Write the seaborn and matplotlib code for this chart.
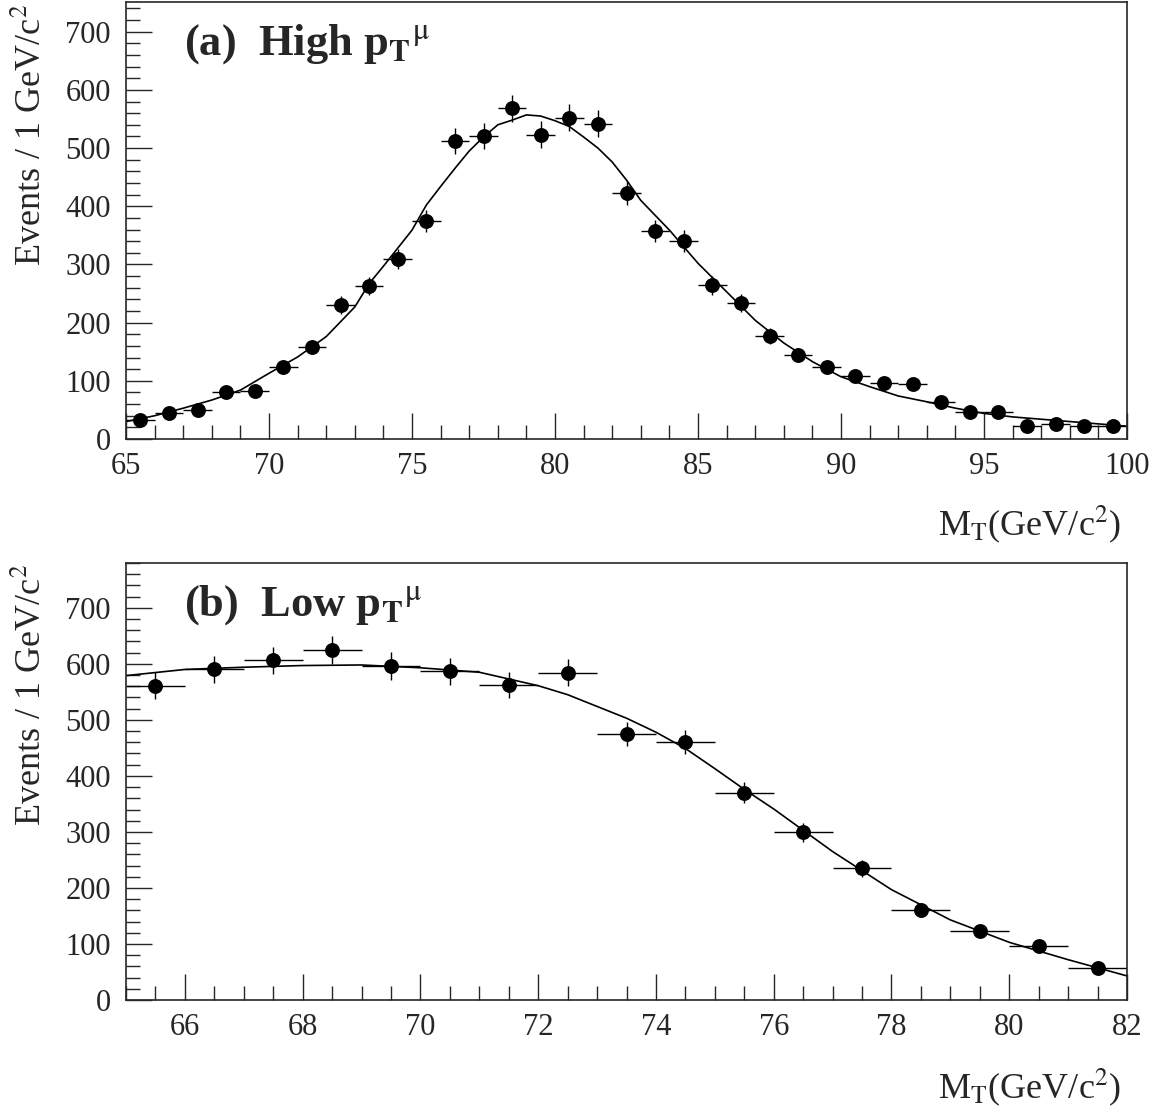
import numpy as np
import pandas as pd
import matplotlib
matplotlib.use("Agg")
import matplotlib.pyplot as plt
import seaborn as sns
from matplotlib.ticker import MultipleLocator

# panel (a) - high pT muons
high_mt = [65.5, 66.5, 67.5, 68.5, 69.5, 70.5, 71.5, 72.5, 73.5, 74.5, 75.5, 76.5,
           77.5, 78.5, 79.5, 80.5, 81.5, 82.5, 83.5, 84.5, 85.5, 86.5, 87.5, 88.5,
           89.5, 90.5, 91.5, 92.5, 93.5, 94.5, 95.5, 96.5, 97.5, 98.5, 99.5]
high_events = [33, 45, 50, 81, 83, 123, 158, 230, 263, 309, 375, 512,
               521, 568, 523, 552, 542, 423, 358, 340, 264, 234, 177, 145,
               124, 109, 96, 94, 64, 47, 46, 23, 26, 22, 23]
high_fit_x = [65, 66, 67, 68, 69, 70, 71, 72, 73, 73.5, 74, 74.5, 75, 75.5, 76, 76.5,
              77, 77.5, 78, 78.5, 79, 79.5, 80, 80.5, 81, 81.5, 82, 82.5, 83, 84, 85,
              86, 87, 88, 89, 90, 91, 92, 93, 94, 95, 96, 97, 98, 99, 100]
high_fit_y = [30, 40, 53, 67, 84, 113, 141, 176, 227, 267, 297, 328, 359, 402, 434, 465,
              495, 519, 540, 548, 557, 555, 547, 537, 519, 500, 476, 445, 410, 359, 302,
              253, 204, 165, 133, 107, 90, 74, 64, 53, 44, 38, 34, 30, 26, 22]

# panel (b) - low pT muons
low_mt = [65.5, 66.5, 67.5, 68.5, 69.5, 70.5, 71.5, 72.5, 73.5, 74.5, 75.5, 76.5,
          77.5, 78.5, 79.5, 80.5, 81.5]
low_events = [561, 590, 606, 624, 596, 587, 562, 584, 475, 461, 370, 299,
              235, 160, 123, 97, 58]
low_fit_x = [65, 66, 67, 68, 69, 70, 71, 72, 72.5, 73, 73.5, 74, 74.5, 75, 75.5, 76,
             77, 78, 79, 80, 81, 82]
low_fit_y = [579, 590, 594, 597, 598, 593, 585, 561, 545, 524, 503, 478, 449, 413, 376,
             341, 265, 197, 143, 103, 72, 43]

panels = [
    dict(mt=high_mt, n=high_events, fx=high_fit_x, fy=high_fit_y, xlim=(65, 100),
         ylim=(0, 751), xmajor=5, xminor=1,
         label=r"(a)  High p$_\mathbf{T}$$^\mathrm{\mu}$"),
    dict(mt=low_mt, n=low_events, fx=low_fit_x, fy=low_fit_y, xlim=(65, 82),
         ylim=(0, 780), xmajor=2, xminor=0.5,
         label=r"(b)  Low p$_\mathbf{T}$$^\mathrm{\mu}$"),
]

sns.set_style("ticks")
plt.rcParams['font.family'] = ['Liberation Serif', 'DejaVu Serif']
plt.rcParams['mathtext.fontset'] = 'stix'

fig = plt.figure(figsize=(11.52, 11.12), dpi=100)
boxes = [[0.1094, 0.6052, 0.8689, 0.3930], [0.1094, 0.1007, 0.8689, 0.3930]]
xlab_y = [0.510, 0.004]
ylab_top = [0.997, 0.493]

for p, box, xly, ylt in zip(panels, boxes, xlab_y, ylab_top):
    ax = fig.add_axes(box)
    pts = pd.DataFrame({"mt": p["mt"], "n": p["n"]})
    fit = pd.DataFrame({"mt": p["fx"], "n": p["fy"]})
    ax.errorbar(pts["mt"], pts["n"], xerr=0.5, yerr=np.sqrt(pts["n"]),
                fmt="none", ecolor="black", elinewidth=1.0, capsize=0)
    sns.lineplot(data=fit, x="mt", y="n", ax=ax, color="black", linewidth=1.2)
    sns.scatterplot(data=pts, x="mt", y="n", ax=ax, color="black", s=115,
                    edgecolor="black", linewidth=0, zorder=5)
    ax.set_xlim(*p["xlim"])
    ax.set_ylim(*p["ylim"])
    ax.xaxis.set_major_locator(MultipleLocator(p["xmajor"]))
    ax.xaxis.set_minor_locator(MultipleLocator(p["xminor"]))
    ax.yaxis.set_major_locator(MultipleLocator(100))
    ax.yaxis.set_minor_locator(MultipleLocator(20))
    ax.tick_params(which="both", direction="in", labelsize=22, width=1,
                   top=False, right=False)
    ax.tick_params(which="major", length=19)
    ax.tick_params(which="minor", length=10)
    ax.tick_params(axis="y", pad=11)
    ax.tick_params(axis="x", pad=9)
    for s in ax.spines.values():
        s.set_linewidth(1.2)
    ax.set_xlabel("")
    ax.set_ylabel("")
    ax.text(0.058, 0.955, p["label"], transform=ax.transAxes, fontsize=32,
            fontweight="bold", ha="left", va="top")
    fig.text(0.973, xly, r"M$_\mathrm{T}$(GeV/c$^2$)", fontsize=26, ha="right", va="bottom")
    fig.text(0.028, ylt, r"Events / 1 GeV/c$^2$", fontsize=26, rotation=90,
             ha="center", va="top")

fig.savefig("out.png", dpi=100)
